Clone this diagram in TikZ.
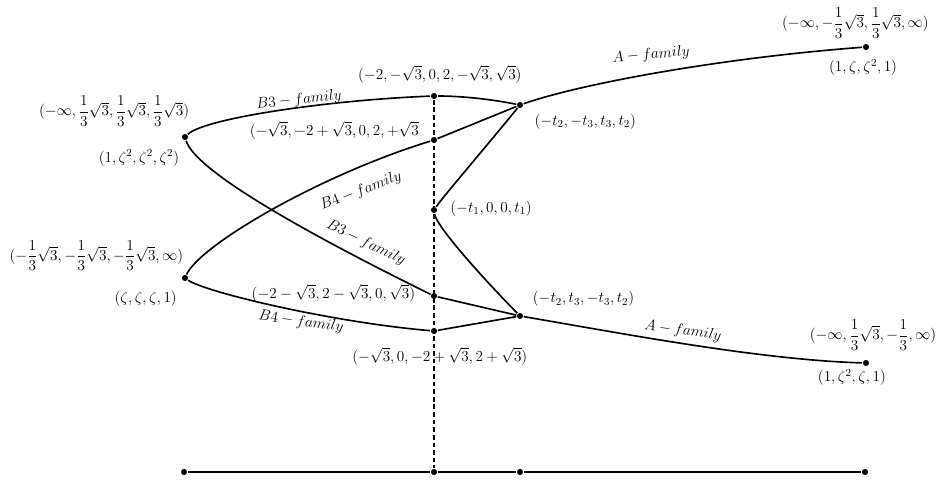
\documentclass[tikz,border=0pt]{standalone}
\usepackage{fix-cm}
\usepackage{amsmath}
\usetikzlibrary{positioning}

\begin{document}
\begin{tikzpicture}[
x=0.03cm,y=-0.03cm,
dot/.style={circle,fill,inner sep=0pt,minimum size=5.2pt},
lbl/.style={inner sep=1pt,font=\fontsize{13}{15}\selectfont},
fam/.style={lbl},
every path/.style={line width=1.4pt}]

\useasboundingbox (0,0) rectangle (941,482);

\node[dot] (ul) at (185,137) {};
\node[dot] (ll) at (185,278) {};
\node[dot] (mt) at (434,96) {};
\node[dot] (m2) at (434,140) {};
\node[dot] (m3) at (434,210) {};
\node[dot] (m4) at (434,296) {};
\node[dot] (m5) at (434,331) {};
\node[dot] (tu) at (520,105) {};
\node[dot] (td) at (520,316) {};
\node[dot] (ar) at (866,47) {};
\node[dot] (br) at (866,363) {};

\node[dot] (b1) at (184,472) {};
\node[dot] (b2) at (434,472) {};
\node[dot] (b3) at (520,472) {};
\node[dot] (b4) at (865,472) {};

\node[lbl] (lul) [above left=5pt and -7.5pt of ul]
  {$(-\infty,\dfrac{1}{3}\sqrt{3},\dfrac{1}{3}\sqrt{3},\dfrac{1}{3}\sqrt{3})$};
\node[lbl] (zul) [below left=7pt and 1pt of ul] {$(1,\zeta^2,\zeta^2,\zeta^2)$};

\node[lbl] (lll) [above left=2pt and -2.5pt of ll]
  {$(-\dfrac{1}{3}\sqrt{3},-\dfrac{1}{3}\sqrt{3},-\dfrac{1}{3}\sqrt{3},\infty)$};
\node[lbl] (zll) [below left=7.5pt and 3pt of ll] {$(\zeta,\zeta,\zeta,1)$};

\node[lbl] (lmt) [above=6pt of mt, xshift=5pt] {$(-2,-\sqrt{3},0,2,-\sqrt{3},\sqrt{3})$};
\node[lbl] (lm2) [left=8pt of m2, yshift=8.5pt] {$(-\sqrt{3},-2+\sqrt{3},0,2,+\sqrt{3}$};
\node[lbl] (lm3) [right=9pt of m3, yshift=1.5pt] {$(-t_1,0,0,t_1)$};
\node[lbl] (lm4) [left=11pt of m4, yshift=2.5pt] {$(-2-\sqrt{3},2-\sqrt{3},0,\sqrt{3})$};
\node[lbl] (lm5) [below=9pt of m5, xshift=5pt] {$(-\sqrt{3},0,-2+\sqrt{3},2+\sqrt{3})$};

\node[lbl] (ltu) [below right=3.5pt and 8.5pt of tu] {$(-t_2,-t_3,t_3,t_2)$};
\node[lbl] (ltd) [above right=4pt and 7pt of td] {$(-t_2,t_3,-t_3,t_2)$};

\node[lbl] (lar) [above=2.5pt of ar, xshift=-9pt]
  {$(-\infty,-\dfrac{1}{3}\sqrt{3},\dfrac{1}{3}\sqrt{3},\infty)$};
\node[lbl] (zar) [below=5.5pt of ar, xshift=-2.5pt] {$(1,\zeta,\zeta^2,1)$};

\node[lbl] (lbr) [above=6pt of br, xshift=6pt]
  {$(-\infty,\dfrac{1}{3}\sqrt{3},-\dfrac{1}{3},\infty)$};
\node[lbl] (zbr) [below=0.5pt of br, xshift=-12pt] {$(1,\zeta^2,\zeta,1)$};

\node[fam,rotate=6] (fb3u) at (299,100) {$B3-family$};
\node[fam,rotate=21] (fb4u) at (361,191) {$B4-family$};
\node[fam,rotate=-26] (fb3d) at (366,243) {$B3-family$};
\node[fam,rotate=-8] (fb4d) at (301,322) {$B4-family$};
\node[fam,rotate=5] (fau) at (651,55) {$A-family$};
\node[fam,rotate=-8] (fad) at (683,331) {$A-family$};

\draw (ul) .. controls (205,118) and (330,100) .. (mt);
\draw (mt) .. controls (465,96) and (495,100) .. (tu);
\draw (ul) .. controls (195,170) and (300,230) .. (m4);
\draw (m4) -- (td);
\draw (ll) .. controls (200,245) and (320,175) .. (m2);
\draw (m2) -- (tu);
\draw (ll) .. controls (205,292) and (330,322) .. (m5);
\draw (m5) -- (td);
\draw (tu) .. controls (485,148) and (442,198) .. (m3);
\draw (m3) .. controls (436,225) and (475,270) .. (td);
\draw (tu) .. controls (580,84) and (720,58) .. (ar);
\draw (td) .. controls (620,333) and (760,360) .. (br);

\draw[dashed,line width=0.9pt,dash pattern=on 4pt off 2.5pt] (mt) -- (b2);
\draw (b1) -- (b2) -- (b3) -- (b4);

\end{tikzpicture}
\end{document}
